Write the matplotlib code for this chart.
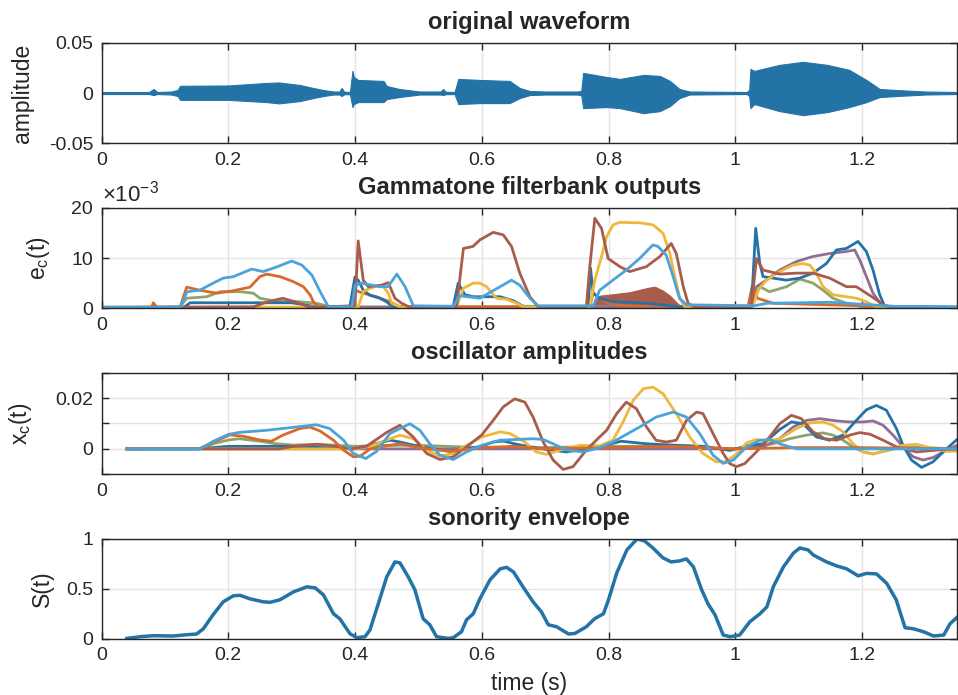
import matplotlib
matplotlib.use("Agg")
import matplotlib.pyplot as plt
import numpy as np

plt.rcParams['font.family'] = ['Liberation Sans', 'DejaVu Sans']
plt.rcParams['axes.unicode_minus'] = False
plt.rcParams['mathtext.fontset'] = 'custom'
plt.rcParams['mathtext.rm'] = 'Liberation Sans'
plt.rcParams['mathtext.it'] = 'Liberation Sans'

# ---------------- data ----------------
x_ticks = [0, 0.2, 0.4, 0.6, 0.8, 1.0, 1.2]
x_ticklabels = ['0', '0.2', '0.4', '0.6', '0.8', '1', '1.2']
x_max = 1.35

# waveform envelope (time, upper amplitude, lower amplitude magnitude)
wave_t = [0, 0.075, 0.082, 0.088, 0.11, 0.12, 0.124, 0.2, 0.26, 0.28, 0.313, 0.334, 0.35, 0.366,
          0.375, 0.379, 0.383, 0.392, 0.396, 0.398, 0.405, 0.445, 0.45, 0.47, 0.502, 0.535, 0.539,
          0.543, 0.557, 0.563, 0.597, 0.644, 0.66, 0.676, 0.7, 0.75, 0.757, 0.76, 0.797, 0.818,
          0.855, 0.881, 0.897, 0.912, 0.928, 1.018, 1.022, 1.024, 1.03, 1.07, 1.107, 1.145, 1.18,
          1.207, 1.228, 1.254, 1.30, 1.35]
wave_top = [0.001, 0.001, 0.004, 0.001, 0.0015, 0.003, 0.0072, 0.0075, 0.010, 0.0105, 0.008, 0.005,
            0.003, 0.0015, 0.0015, 0.005, 0.0012, 0.0012, 0.022, 0.016, 0.013, 0.012, 0.007, 0.004,
            0.0015, 0.0015, 0.004, 0.0012, 0.001, 0.014, 0.013, 0.012, 0.005, 0.002, 0.0015, 0.0015,
            0.002, 0.020, 0.016, 0.014, 0.018, 0.017, 0.012, 0.004, 0.0015, 0.001, 0.003, 0.024,
            0.022, 0.028, 0.031, 0.028, 0.023, 0.013, 0.004, 0.003, 0.0015, 0.001]
wave_bot = [0.001, 0.001, 0.002, 0.001, 0.0015, 0.003, 0.0068, 0.0068, 0.009, 0.0103, 0.008, 0.005,
            0.003, 0.0015, 0.0015, 0.003, 0.0012, 0.0012, 0.014, 0.011, 0.009, 0.009, 0.006, 0.004,
            0.0015, 0.0015, 0.002, 0.0012, 0.001, 0.011, 0.010, 0.010, 0.005, 0.002, 0.0015, 0.0015,
            0.002, 0.015, 0.014, 0.015, 0.020, 0.018, 0.013, 0.005, 0.0015, 0.001, 0.003, 0.015,
            0.011, 0.018, 0.022, 0.019, 0.014, 0.009, 0.004, 0.003, 0.0015, 0.001]

# Gammatone filterbank outputs, values in units of 1e-3: (time, value)
e_darkblue = [(0.0, 0.2), (0.13, 0.2), (0.14, 1.1), (0.30, 1.1), (0.34, 0.3), (0.392, 0.4), (0.3998, 6.2),
              (0.405, 5.6), (0.413, 3.6), (0.4235, 2.6), (0.439, 2.0), (0.4496, 1.3), (0.46, 0.3),
              (0.555, 0.4), (0.5628, 5.0), (0.5733, 2.7), (0.5865, 2.3), (0.629, 2.3), (0.650, 1.5),
              (0.6653, 0.4), (0.7679, 0.3), (0.7716, 8.0), (0.7758, 3.0), (0.786, 2.0), (0.807, 1.3),
              (0.860, 1.0), (0.912, 0.3), (1.0255, 0.3), (1.0323, 15.9), (1.0386, 9.0), (1.0439, 6.3),
              (1.0597, 6.0), (1.0807, 5.6), (1.1017, 6.0), (1.1228, 7.0), (1.1438, 8.9), (1.1596, 11.6),
              (1.1754, 11.9), (1.1937, 13.3), (1.2069, 11.3), (1.2174, 7.6), (1.2279, 2.7),
              (1.2358, 0.4), (1.35, 0.2)]
e_orange = [(0.0, 0.2), (0.079, 0.2), (0.0818, 1.1), (0.087, 0.2), (0.1238, 0.2), (0.1343, 4.2),
            (0.155, 3.6), (0.1816, 3.0), (0.2078, 3.5), (0.2341, 4.2), (0.2499, 6.3), (0.2605, 6.8),
            (0.2816, 6.3), (0.3026, 5.3), (0.3184, 4.3), (0.329, 2.7), (0.3342, 1.3), (0.3421, 0.3),
            (0.397, 0.3), (0.3998, 3.6), (0.413, 3.0), (0.434, 2.3), (0.455, 1.3), (0.471, 0.3),
            (0.77, 0.3), (0.776, 3.0), (0.786, 2.0), (0.80, 1.0), (0.83, 0.5), (1.02, 0.3),
            (1.027, 4.5), (1.035, 2.0), (1.06, 1.0), (1.20, 0.5), (1.25, 0.2), (1.35, 0.2)]
e_yellow = [(0.0, 0.1), (0.405, 0.3), (0.413, 3.3), (0.4235, 4.0), (0.434, 4.4), (0.4445, 4.3),
            (0.4525, 3.0), (0.458, 1.0), (0.4707, 0.3), (0.5603, 0.3), (0.571, 4.0), (0.5865, 5.0),
            (0.597, 5.0), (0.6075, 4.3), (0.6233, 2.0), (0.6391, 1.8), (0.655, 1.0), (0.6653, 0.3),
            (0.7705, 0.3), (0.7784, 5.6), (0.789, 10.3), (0.7968, 14.2), (0.8073, 16.6), (0.8178, 17.1),
            (0.8494, 17.0), (0.8704, 16.6), (0.8862, 14.9), (0.8968, 10.9), (0.9046, 6.3),
            (0.9125, 2.0), (0.9204, 0.3), (1.0281, 0.5), (1.036, 3.6), (1.0492, 5.6), (1.0702, 7.3),
            (1.0912, 8.6), (1.107, 8.9), (1.1175, 8.6), (1.128, 7.0), (1.1386, 4.3), (1.1543, 2.7),
            (1.1754, 2.3), (1.1912, 2.0), (1.207, 1.3), (1.2227, 0.3), (1.35, 0.1)]
e_purple = [(0.0, 0.1), (1.0255, 0.3), (1.0334, 4.3), (1.049, 5.6), (1.070, 7.6), (1.0965, 9.3),
            (1.1227, 10.3), (1.149, 10.9), (1.1754, 11.3), (1.1885, 11.6), (1.1965, 9.6),
            (1.207, 6.3), (1.2174, 3.0), (1.233, 0.3), (1.35, 0.1)]
e_green = [(0.0, 0.1), (0.124, 0.3), (0.1343, 2.0), (0.1659, 2.3), (0.187, 3.3), (0.2185, 3.3),
           (0.2396, 3.0), (0.25, 2.0), (0.271, 1.5), (0.313, 1.3), (0.3395, 1.0), (0.36, 0.3),
           (1.0255, 0.3), (1.0386, 4.3), (1.054, 3.3), (1.081, 4.3), (1.102, 5.8), (1.123, 5.0),
           (1.1386, 3.6), (1.1543, 2.0), (1.1754, 1.0), (1.20, 0.3), (1.35, 0.1)]
e_lightblue = [(0.0, 0.2), (0.124, 0.2), (0.135, 3.3), (0.155, 3.6), (0.176, 5.0), (0.192, 6.0),
               (0.208, 6.3), (0.237, 7.8), (0.255, 7.3), (0.276, 8.2), (0.300, 9.4), (0.316, 8.6),
               (0.332, 6.6), (0.345, 3.3), (0.358, 0.3), (0.395, 0.3), (0.400, 4.5), (0.410, 5.0),
               (0.439, 4.3), (0.452, 4.3), (0.466, 6.8), (0.479, 4.3), (0.492, 0.5), (0.555, 0.4),
               (0.565, 2.5), (0.597, 2.0), (0.629, 4.3), (0.647, 5.6), (0.660, 4.6), (0.676, 2.0),
               (0.689, 0.5), (0.776, 0.5), (0.786, 3.6), (0.807, 5.6), (0.828, 7.6), (0.849, 9.9),
               (0.870, 12.6), (0.878, 12.3), (0.891, 10.6), (0.902, 6.3), (0.912, 2.0), (0.923, 0.7),
               (1.03, 0.5), (1.05, 1.0), (1.15, 1.2), (1.20, 0.8), (1.25, 0.4), (1.35, 0.3)]
e_brown = [(0.0, 0.2), (0.24, 0.3), (0.262, 1.3), (0.286, 2.0), (0.313, 1.0), (0.327, 0.2),
           (0.3998, 0.5), (0.405, 13.4), (0.413, 5.6), (0.4209, 4.3), (0.4419, 4.6), (0.4525, 5.1),
           (0.463, 2.0), (0.4735, 1.0), (0.485, 0.3), (0.5603, 0.3), (0.571, 11.9), (0.586, 12.3),
           (0.597, 13.6), (0.618, 15.1), (0.634, 14.6), (0.647, 12.3), (0.660, 7.0), (0.676, 2.3),
           (0.689, 0.3), (0.765, 0.3), (0.7705, 8.3), (0.7784, 17.9), (0.789, 15.9), (0.7994, 9.9),
           (0.8178, 8.3), (0.8336, 7.3), (0.860, 8.3), (0.881, 10.3), (0.899, 12.9), (0.907, 10.9),
           (0.918, 4.3), (0.9256, 1.0), (0.935, 0.3), (1.0255, 0.3), (1.0334, 9.9), (1.0439, 7.6),
           (1.0702, 6.8), (1.0965, 7.0), (1.1227, 7.0), (1.149, 6.0), (1.1754, 4.3), (1.191, 4.3),
           (1.207, 3.0), (1.2227, 1.7), (1.233, 0.7), (1.245, 0.3), (1.35, 0.2)]
e_brown_band = [(0.77, 0.3), (0.786, 2.5), (0.807, 2.8), (0.8336, 3.2), (0.86, 4.0), (0.873, 4.3),
                (0.886, 3.5), (0.897, 2.5), (0.907, 1.2), (0.915, 0.3)]

# oscillator amplitudes (time, value)
x_darkblue = [(0.04, 0), (0.15, 0), (0.2, 0.001), (0.3, 0.001), (0.4, 0.0), (0.455, 0.0034),
              (0.471, 0.0027), (0.5, 0.001), (0.55, -0.001), (0.6, 0.001), (0.618, 0.0027),
              (0.634, 0.0031), (0.655, 0.0018), (0.697, 0.0), (0.733, -0.0012), (0.78, 0.0005),
              (0.82, 0.003), (0.86, 0.002), (0.9, 0.0015), (0.95, 0.001), (0.9913, -0.0006),
              (1.023, 0.0014), (1.044, 0.002), (1.070, 0.0076), (1.0886, 0.0106), (1.107, 0.0099),
              (1.128, 0.0047), (1.149, 0.0034), (1.170, 0.0054), (1.191, 0.0112), (1.207, 0.0154),
              (1.2227, 0.0171), (1.2385, 0.0152), (1.2543, 0.008), (1.2648, 0.0014), (1.278, -0.0044),
              (1.294, -0.0073), (1.312, -0.0051), (1.3334, 0.0), (1.3513, 0.004)]
x_orange = [(0.04, 0), (0.155, 0.0002), (0.176, 0.0025), (0.202, 0.0055), (0.223, 0.005), (0.25, 0.0035),
            (0.268, 0.003), (0.287, 0.0055), (0.313, 0.008), (0.329, 0.0086), (0.345, 0.007),
            (0.366, 0.0034), (0.382, -0.0005), (0.397, -0.0031), (0.408, -0.0029), (0.424, 0.0),
            (0.445, 0.001), (0.471, 0.002), (0.5, 0.0005), (0.55, -0.001), (0.6, 0.0005), (0.65, 0.001),
            (0.7, 0.0), (0.8, 0.0005), (0.9, 0.001), (1.0, 0.0), (1.1, 0.0005), (1.2, 0.0005), (1.35, 0.0)]
x_yellow = [(0.04, 0), (0.4, 0.0), (0.424, 0.001), (0.45, 0.0035), (0.4708, 0.0054), (0.4918, 0.004),
            (0.513, -0.0005), (0.534, -0.0029), (0.555, -0.0018), (0.576, 0.0014), (0.6, 0.0047),
            (0.629, 0.0067), (0.645, 0.006), (0.668, 0.0027), (0.686, -0.0012), (0.702, -0.0022),
            (0.723, -0.0005), (0.755, 0.0014), (0.786, 0.0012), (0.807, 0.0034), (0.823, 0.0106),
            (0.839, 0.0191), (0.855, 0.0237), (0.87, 0.0243), (0.886, 0.0217), (0.907, 0.0139),
            (0.928, 0.0047), (0.949, -0.0018), (0.97, -0.0051), (0.986, -0.005), (1.002, -0.002),
            (1.018, 0.0024), (1.034, 0.0037), (1.05, 0.003), (1.07, 0.004), (1.0965, 0.008),
            (1.1175, 0.0102), (1.1386, 0.0106), (1.1544, 0.0093), (1.1702, 0.0067), (1.186, 0.002),
            (1.2018, -0.0012), (1.2175, -0.002), (1.2385, -0.0005), (1.2648, 0.0014), (1.2859, 0.0018),
            (1.307, 0.0005), (1.3334, -0.001), (1.35, -0.0009)]
x_purple = [(0.04, 0), (1.0, 0.0), (1.044, 0.0008), (1.070, 0.004), (1.0912, 0.0086), (1.1123, 0.0112),
            (1.1333, 0.0119), (1.1597, 0.011), (1.1807, 0.0106), (1.2018, 0.0106), (1.2175, 0.011),
            (1.2333, 0.0093), (1.2491, 0.0054), (1.2648, 0.0008), (1.2806, -0.0031), (1.2964, -0.0044),
            (1.3122, -0.0034), (1.3334, -0.0005), (1.35, 0.0014)]
x_green = [(0.04, 0), (0.155, 0), (0.176, 0.002), (0.2, 0.0035), (0.218, 0.004), (0.25, 0.003),
           (0.276, 0.002), (0.303, 0.0015), (0.34, 0.0018), (0.4, 0.001), (0.45, 0.0014), (0.5, 0.0014),
           (0.6, 0.0005), (0.7, 0.0005), (0.8, 0.001), (0.9, 0.001), (1.0, 0.0), (1.0597, 0.002),
           (1.086, 0.004), (1.1123, 0.0054), (1.1386, 0.0063), (1.1544, 0.0054), (1.1702, 0.0034),
           (1.186, 0.0008), (1.2018, -0.0012), (1.2175, -0.002), (1.2385, -0.0007), (1.2648, 0.0008),
           (1.35, 0.0)]
x_brown = [(0.04, 0), (0.28, 0.0), (0.303, 0.001), (0.34, 0.0018), (0.37, 0.001), (0.394, 0.0),
           (0.418, 0.001), (0.45, 0.0065), (0.4708, 0.0093), (0.4918, 0.0047), (0.513, -0.0018),
           (0.534, -0.0042), (0.555, -0.0031), (0.576, 0.0008), (0.5997, 0.0054), (0.618, 0.0112),
           (0.6338, 0.0165), (0.652, 0.0197), (0.668, 0.0184), (0.681, 0.0125), (0.697, 0.0027),
           (0.7126, -0.0044), (0.7284, -0.0081), (0.744, -0.007), (0.765, -0.0005), (0.786, 0.0047),
           (0.797, 0.0073), (0.813, 0.0139), (0.828, 0.0184), (0.844, 0.0158), (0.86, 0.0086),
           (0.875, 0.0034), (0.891, 0.0027), (0.907, 0.0034), (0.923, 0.0112), (0.939, 0.0145),
           (0.949, 0.0139), (0.965, 0.006), (0.981, -0.0018), (0.9913, -0.0058), (1.0018, -0.007),
           (1.0149, -0.0058), (1.0334, -0.0012), (1.0544, 0.0047), (1.0702, 0.0099), (1.0886, 0.0132),
           (1.1044, 0.0119), (1.1228, 0.0067), (1.1412, 0.004), (1.1597, 0.0034), (1.1807, 0.0054),
           (1.1965, 0.0064), (1.2123, 0.0058), (1.2333, 0.0034), (1.2543, 0.0008), (1.2859, -0.0012),
           (1.3175, -0.0005), (1.35, 0.0)]
x_lightblue = [(0.04, 0), (0.155, 0), (0.1765, 0.003), (0.200, 0.0057), (0.218, 0.0065), (0.260, 0.0073),
               (0.303, 0.0085), (0.339, 0.0095), (0.36, 0.008), (0.382, 0.0034), (0.397, -0.0018),
               (0.417, -0.0038), (0.434, -0.001), (0.455, 0.006), (0.4708, 0.008), (0.4866, 0.0099),
               (0.5024, 0.0073), (0.518, 0.002), (0.534, -0.0025), (0.555, -0.0042), (0.576, -0.0012),
               (0.5997, 0.0014), (0.6286, 0.0034), (0.655, 0.0037), (0.681, 0.004), (0.697, 0.0037),
               (0.7126, 0.002), (0.7338, -0.0005), (0.76, -0.0012), (0.786, 0.0005), (0.807, 0.0027),
               (0.849, 0.0086), (0.875, 0.0125), (0.902, 0.0145), (0.923, 0.0125), (0.944, 0.006),
               (0.965, -0.0025), (0.981, -0.0057), (0.997, -0.0044), (1.018, 0.0008), (1.039, 0.0034),
               (1.055, 0.0037), (1.07, 0.002), (1.097, 0.0), (1.2, 0.0), (1.35, 0.0)]

# sonority envelope (time, value)
sonority = [(0.04, 0.003), (0.061, 0.02), (0.082, 0.03), (0.113, 0.027), (0.1345, 0.04), (0.15, 0.047),
            (0.1607, 0.1), (0.176, 0.24), (0.192, 0.37), (0.208, 0.43), (0.2185, 0.435), (0.234, 0.40),
            (0.255, 0.37), (0.266, 0.365), (0.2815, 0.39), (0.303, 0.47), (0.324, 0.52), (0.337, 0.51),
            (0.35, 0.44), (0.366, 0.25), (0.376, 0.2), (0.392, 0.05), (0.403, 0.01), (0.4157, 0.02),
            (0.4235, 0.087), (0.4367, 0.35), (0.45, 0.62), (0.463, 0.77), (0.471, 0.76), (0.484, 0.62),
            (0.4945, 0.49), (0.5075, 0.2), (0.518, 0.14), (0.5286, 0.02), (0.547, 0.003), (0.555, 0.01),
            (0.568, 0.07), (0.576, 0.19), (0.5866, 0.25), (0.597, 0.40), (0.613, 0.59), (0.629, 0.70),
            (0.639, 0.716), (0.65, 0.67), (0.665, 0.52), (0.681, 0.37), (0.694, 0.27), (0.705, 0.14),
            (0.718, 0.12), (0.737, 0.047), (0.747, 0.053), (0.765, 0.12), (0.778, 0.2), (0.792, 0.25),
            (0.8, 0.39), (0.813, 0.66), (0.829, 0.89), (0.845, 1.0), (0.857, 0.98), (0.87, 0.91),
            (0.886, 0.81), (0.899, 0.77), (0.912, 0.78), (0.923, 0.80), (0.934, 0.72), (0.947, 0.49),
            (0.957, 0.35), (0.968, 0.24), (0.981, 0.037), (0.992, 0.02), (1.007, 0.037), (1.023, 0.17),
            (1.039, 0.25), (1.05, 0.32), (1.06, 0.52), (1.076, 0.72), (1.092, 0.86), (1.102, 0.91),
            (1.115, 0.89), (1.123, 0.84), (1.144, 0.77), (1.16, 0.73), (1.176, 0.70), (1.194, 0.63),
            (1.207, 0.655), (1.223, 0.65), (1.239, 0.555), (1.254, 0.39), (1.268, 0.11), (1.281, 0.10),
            (1.297, 0.07), (1.313, 0.027), (1.329, 0.037), (1.339, 0.15), (1.351, 0.22)]

# ---------------- style ----------------
C_BLUE = '#2473a7'
C_ORANGE = '#d9692b'
C_YELLOW = '#efb83b'
C_PURPLE = '#916f94'
C_GREEN = '#8da56c'
C_LBLUE = '#4ca3d9'
C_BROWN = '#a95b4c'
TXT = '#262626'

fig = plt.figure(figsize=(9.58, 6.95), dpi=100)
L, W = 0.106, 0.893
ax1 = fig.add_axes([L, 0.7938, W, 0.1447])
ax2 = fig.add_axes([L, 0.5564, W, 0.1447])
ax3 = fig.add_axes([L, 0.3176, W, 0.1462])
ax4 = fig.add_axes([L, 0.0810, W, 0.1435])


def style(ax):
    ax.set_xlim(0, x_max)
    ax.set_xticks(x_ticks)
    ax.set_xticklabels(x_ticklabels)
    ax.grid(True, color='#e4e4e4', linewidth=1.0)
    ax.set_axisbelow(True)
    for s in ax.spines.values():
        s.set_color(TXT)
        s.set_linewidth(1.0)
    ax.tick_params(direction='in', length=5, width=1.0, colors=TXT, labelsize=14,
                   top=True, right=True, pad=6)
    for lab in ax.get_xticklabels() + ax.get_yticklabels():
        lab.set_color(TXT)


def xy(pts):
    a = np.array(pts)
    return a[:, 0], a[:, 1]


# panel 1: original waveform
wt = np.array(wave_t)
ax1.fill_between(wt, -np.array(wave_bot), np.array(wave_top), color=C_BLUE, linewidth=0.8,
                 edgecolor=C_BLUE)
ax1.plot([0, x_max], [0, 0], color=C_BLUE, lw=1.0)
ax1.set_ylim(-0.05, 0.05)
ax1.set_yticks([-0.05, 0, 0.05])
ax1.set_yticklabels(['-0.05', '0', '0.05'])
style(ax1)
ax1.set_title('original waveform', fontsize=17, fontweight='bold', color=TXT, pad=10)
ax1.set_ylabel('amplitude', fontsize=16.5, color=TXT)
ax1.yaxis.set_label_coords(-0.079, 0.5)

# panel 2: gammatone outputs
bt, bv = xy(e_brown_band)
ax2.fill_between(bt, 0, bv, color=C_BROWN, linewidth=0.8)
for pts, c in [(e_green, C_GREEN), (e_purple, C_PURPLE), (e_orange, C_ORANGE),
               (e_darkblue, C_BLUE), (e_yellow, C_YELLOW), (e_brown, C_BROWN),
               (e_lightblue, C_LBLUE)]:
    t, v = xy(pts)
    ax2.plot(t, v, color=c, lw=2.0, solid_joinstyle='round')
ax2.set_ylim(0, 20)
ax2.set_yticks([0, 10, 20])
ax2.set_yticklabels(['0', '10', '20'])
style(ax2)
ax2.text(0.0, 1.01, r'$\times\mathregular{10^{-3}}$', transform=ax2.transAxes, fontsize=16,
         color=TXT, ha='left', va='bottom')
ax2.set_title('Gammatone filterbank outputs', fontsize=17, fontweight='bold', color=TXT, pad=10)
ax2.set_ylabel(r'e$_\mathregular{c}$(t)', fontsize=16.5, color=TXT)
ax2.yaxis.set_label_coords(-0.058, 0.5)

# panel 3: oscillator amplitudes
for pts, c in [(x_green, C_GREEN), (x_purple, C_PURPLE), (x_darkblue, C_BLUE), (x_yellow, C_YELLOW),
               (x_brown, C_BROWN), (x_orange, C_ORANGE), (x_lightblue, C_LBLUE)]:
    t, v = xy(pts)
    ax3.plot(t, v, color=c, lw=2.0, solid_joinstyle='round')
ax3.set_ylim(-0.01, 0.03)
ax3.set_yticks([-0.01, 0, 0.01, 0.02, 0.03])
ax3.set_yticklabels(['', '0', '', '0.02', ''])
style(ax3)
ax3.set_title('oscillator amplitudes', fontsize=17, fontweight='bold', color=TXT, pad=10)
ax3.set_ylabel(r'x$_\mathregular{c}$(t)', fontsize=16.5, color=TXT)
ax3.yaxis.set_label_coords(-0.079, 0.5)

# panel 4: sonority envelope
t, v = xy(sonority)
ax4.plot(t, v, color=C_BLUE, lw=2.5, solid_joinstyle='round')
ax4.set_ylim(0, 1)
ax4.set_yticks([0, 0.5, 1])
ax4.set_yticklabels(['0', '0.5', '1'])
style(ax4)
ax4.set_title('sonority envelope', fontsize=17, fontweight='bold', color=TXT, pad=10)
ax4.set_ylabel('S(t)', fontsize=16.5, color=TXT)
ax4.yaxis.set_label_coords(-0.056, 0.5)
ax4.set_xlabel('time (s)', fontsize=16.5, color=TXT, labelpad=6)

fig.savefig('out.png', dpi=100)
